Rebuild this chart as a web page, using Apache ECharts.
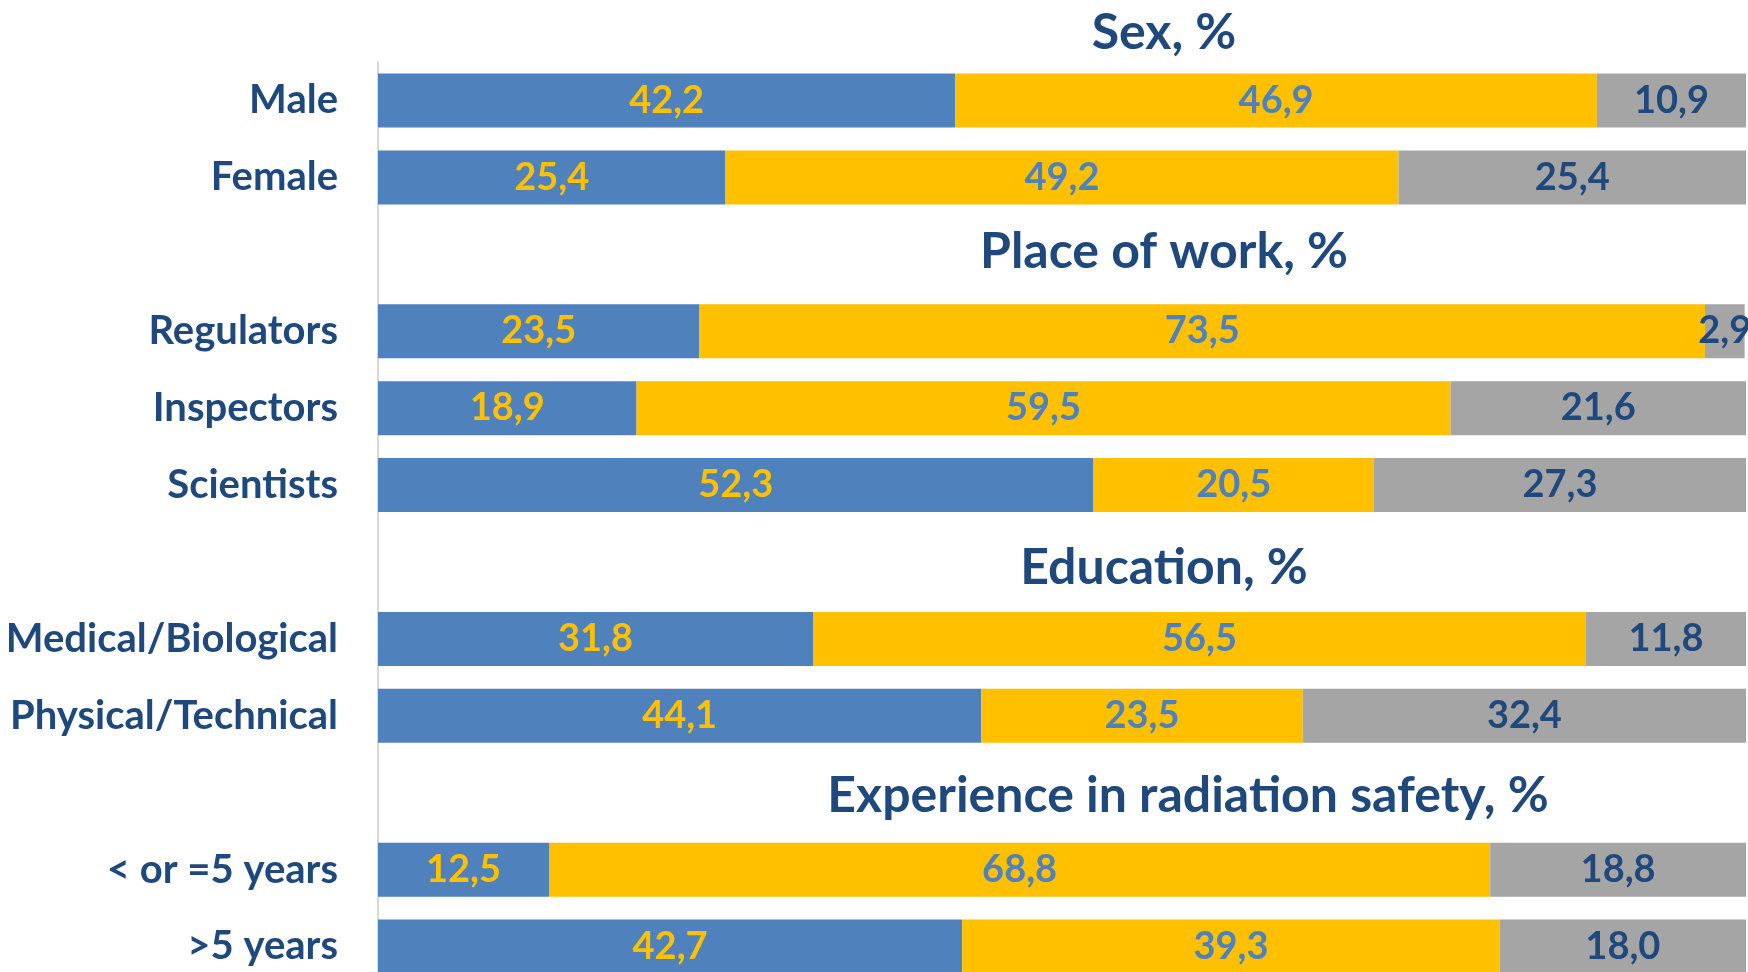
<!DOCTYPE html>
<html>
<head>
<meta charset="utf-8">
<title>Survey respondents</title>
<script src="https://cdn.jsdelivr.net/npm/echarts@6/dist/echarts.min.js"></script>
<style>
  * { margin: 0; padding: 0; }
  html, body { width: 1748px; height: 972px; background: #fff; overflow: hidden; }
  #main { width: 1748px; height: 972px; }
</style>
</head>
<body>
<div id="main"></div>
<script>
  // rows top to bottom, blank rows leave room for the section titles
  var categories = ['Male', 'Female', '', 'Regulators', 'Inspectors', 'Scientists', '',
    'Medical/Biological', 'Physical/Technical', '', '< or =5 years', '>5 years'];
  var blueValues = [42.2, 25.4, '-', 23.5, 18.9, 52.3, '-', 31.8, 44.1, '-', 12.5, 42.7];
  var yellowValues = [46.9, 49.2, '-', 73.5, 59.5, 20.5, '-', 56.5, 23.5, '-', 68.8, 39.3];
  var grayValues = [10.9, 25.4, '-', 2.9, 21.6, 27.3, '-', 11.8, 32.4, '-', 18.8, 18.0];
  var sectionTitles = ['Sex, %', 'Place of work, %', 'Education, %', 'Experience in radiation safety, %'];

  var FONT = 'Lato, "Open Sans", sans-serif';
  var darkBlue = '#1F497D';

  function fmt(p) {
    return p.value.toFixed(1).replace('.', ',');
  }

  function makeSeries(name, data, color, labelColor) {
    return {
      name: name,
      type: 'bar',
      stack: 'total',
      data: data,
      barWidth: 54,
      itemStyle: { color: color },
      label: {
        show: true,
        position: 'inside',
        formatter: fmt,
        color: labelColor,
        fontFamily: FONT,
        fontWeight: 'bold',
        fontSize: 38
      }
    };
  }

  // title centres in px
  var titlePos = [[1164, 33], [1164, 252], [1164, 568], [1188, 796]];
  var graphics = sectionTitles.map(function (t, i) {
    return {
      type: 'text',
      x: titlePos[i][0],
      y: titlePos[i][1],
      style: {
        text: t,
        fill: darkBlue,
        font: 'bold 50px ' + FONT,
        textAlign: 'center',
        textVerticalAlign: 'middle'
      }
    };
  });

  var chart = echarts.init(document.getElementById('main'));
  chart.setOption({
    animation: false,
    grid: { left: 378, right: 2, top: 62, height: 923, outerBoundsMode: 'none' },
    xAxis: { type: 'value', min: 0, max: 100, show: false },
    yAxis: {
      type: 'category',
      inverse: true,
      data: categories,
      axisLine: { show: true, lineStyle: { color: '#D9D9D9', width: 2 } },
      axisTick: { show: false },
      axisLabel: {
        margin: 40,
        color: darkBlue,
        fontFamily: FONT,
        fontWeight: 'bold',
        fontSize: 40
      }
    },
    series: [
      makeSeries('blue', blueValues, '#4F81BD', '#FFC000'),
      makeSeries('yellow', yellowValues, '#FFC000', '#4F81BD'),
      makeSeries('gray', grayValues, '#A5A5A5', darkBlue)
    ],
    graphic: graphics
  });
</script>
</body>
</html>
